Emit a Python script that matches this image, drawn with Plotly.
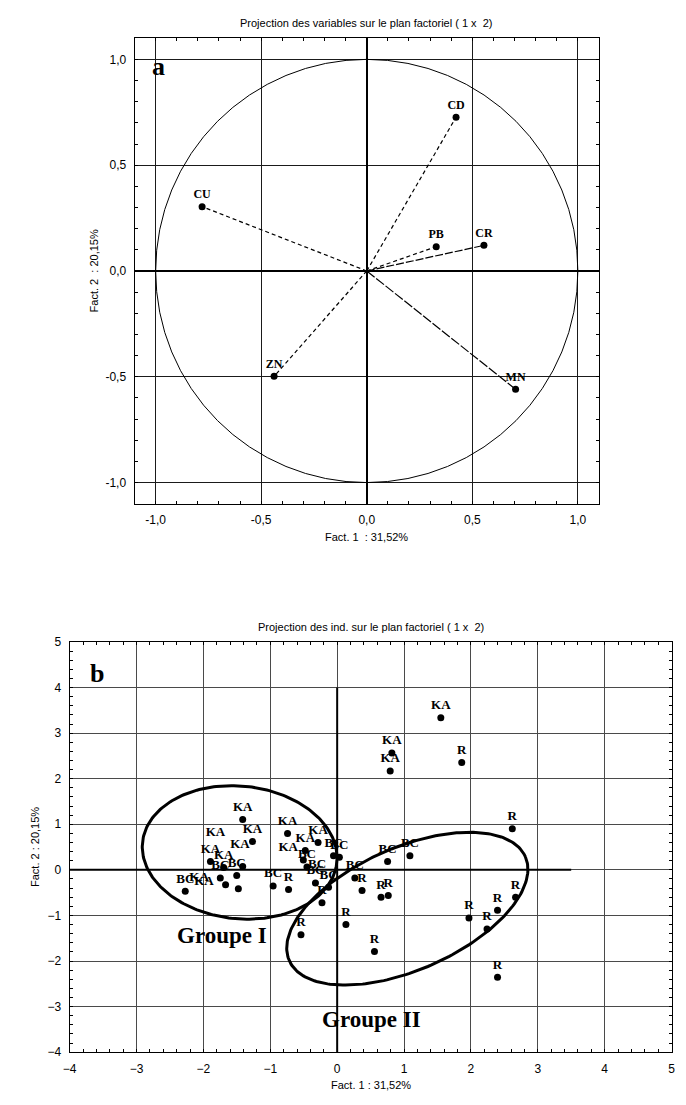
import numpy as np
import plotly.graph_objects as go

# ---------------- DATA ----------------
# (a) variables projection
var_names = ["CD", "CU", "PB", "CR", "ZN", "MN"]
var_f1 = [0.423, -0.780, 0.329, 0.555, -0.439, 0.705]
var_f2 = [0.727, 0.304, 0.115, 0.121, -0.498, -0.559]
var_dash = ["4px,3px", "4px,3px", "4px,3px", "8px,2px", "4px,3px", "10px,2px"]

# (b) individuals projection
ind_labels = ["KA", "KA", "KA", "KA", "BC", "BC", "BC", "", "", "",
              "KA", "KA", "KA", "KA", "BC", "BC", "BC", "BC", "BC", "BC",
              "R", "R", "BC", "R", "R", "R", "BC", "BC", "R", "R",
              "R", "R", "R", "R", "R", "R", "R", "KA", "KA", "KA", "R"]
ind_f1 = [-1.413, -1.266, -1.895, -1.698, -1.502, -1.748, -2.272, -1.413, -1.669, -1.478,
          -0.742, -0.286, -0.477, -0.506, -0.452, -0.325, -0.129, -0.055, 0.033, -0.958,
          -0.727, -0.227, 0.264, 0.372, 0.656, 0.764, 0.754, 1.088, 0.131, -0.541,
          0.558, 2.619, 2.668, 2.398, 1.971, 2.241, 2.398, 1.550, 0.818, 0.793, 1.863]
ind_f2 = [1.105, 0.621, 0.181, 0.051, -0.123, -0.181, -0.469, 0.072, -0.325, -0.412,
          0.795, 0.599, 0.426, 0.217, 0.065, -0.289, -0.383, 0.311, 0.274, -0.354,
          -0.433, -0.722, -0.181, -0.455, -0.600, -0.563, 0.181, 0.311, -1.199, -1.423,
          -1.791, 0.903, -0.600, -0.888, -1.055, -1.300, -2.355, 3.337, 2.563, 2.167, 2.355]
ind_textpos = ["top center"] * len(ind_labels)
ind_textpos[13] = "top left"

# labels whose points are hidden in the crowd
hidden_labels = ["KA", "KA", "KA", "KA", "BC"]
hidden_f1 = [-1.821, -1.453, -2.066, -1.992, -0.300]
hidden_f2 = [0.809, 0.556, -0.166, -0.253, 0.123]

# group ellipses: centre and two conjugate semi-axes (data units)
ell_names = ["Groupe I", "Groupe II"]
ell_center = [(-1.458, 0.383), (1.049, -0.852)]
ell_axis_a = [(1.457, -0.12), (1.766, 1.138)]
ell_axis_b = [(0.0, 1.46), (0.366, -1.231)]
ell_label_pos = [(-1.723, -1.445), (0.509, -3.272)]

a_ticks = [-1.0, -0.5, 0.0, 0.5, 1.0]
a_ticktext = ["-1,0", "-0,5", "0,0", "0,5", "1,0"]
b_ticks = list(range(-4, 6))

# ---------------- FIGURE ----------------
W, H = 686, 1105
OFF = 8  # page body margin
def px(v): return (v - OFF) / W
def py(v): return 1 - (v - OFF) / H

fig = go.Figure()

SERIF = "Liberation Serif, Times New Roman, serif"
SANS = "Liberation Sans, Arial, sans-serif"

# --- plot a ---
fig.add_shape(type="circle", xref="x", yref="y", x0=-1, y0=-1, x1=1, y1=1,
              line=dict(color="black", width=1))
for n, x, y, d in zip(var_names, var_f1, var_f2, var_dash):
    fig.add_trace(go.Scatter(x=[0, x], y=[0, y], mode="lines", xaxis="x", yaxis="y",
                             line=dict(color="black", width=1.2, dash=d),
                             showlegend=False, hoverinfo="skip"))
fig.add_trace(go.Scatter(x=var_f1, y=var_f2, mode="markers+text", text=var_names,
                         textposition="top center", xaxis="x", yaxis="y",
                         marker=dict(color="black", size=7),
                         textfont=dict(family=SERIF, size=12, color="black", weight="bold"),
                         showlegend=False))

# --- plot b ---
fig.add_shape(type="line", xref="x2", yref="y2", x0=0, x1=0, y0=-4, y1=4,
              line=dict(color="black", width=2), layer="between")
fig.add_shape(type="line", xref="x2", yref="y2", x0=-4, x1=3.5, y0=0, y1=0,
              line=dict(color="black", width=2), layer="between")

t = np.linspace(0, 2 * np.pi, 240)
for c, A, B in zip(ell_center, ell_axis_a, ell_axis_b):
    ex = c[0] + A[0] * np.cos(t) + B[0] * np.sin(t)
    ey = c[1] + A[1] * np.cos(t) + B[1] * np.sin(t)
    fig.add_trace(go.Scatter(x=ex, y=ey, mode="lines", xaxis="x2", yaxis="y2",
                             line=dict(color="black", width=3),
                             showlegend=False, hoverinfo="skip"))

fig.add_trace(go.Scatter(x=ind_f1, y=ind_f2, mode="markers+text", text=ind_labels,
                         textposition=ind_textpos, xaxis="x2", yaxis="y2",
                         marker=dict(color="black", size=7),
                         textfont=dict(family=SERIF, size=13, color="black", weight="bold"),
                         showlegend=False))
fig.add_trace(go.Scatter(x=hidden_f1, y=hidden_f2, mode="text", text=hidden_labels,
                         xaxis="x2", yaxis="y2",
                         textfont=dict(family=SERIF, size=13, color="black", weight="bold"),
                         showlegend=False))

for name, pos in zip(ell_names, ell_label_pos):
    fig.add_annotation(x=pos[0], y=pos[1], xref="x2", yref="y2", text=name, showarrow=False,
                       xanchor="center", yanchor="middle",
                       font=dict(family=SERIF, size=23, color="black", weight="bold"))

fig.add_annotation(x=-0.985, y=0.966, xref="x", yref="y", text="a", showarrow=False,
                   xanchor="center", yanchor="middle",
                   font=dict(family=SERIF, size=26, color="black", weight="bold"))
fig.add_annotation(x=-3.59, y=4.30, xref="x2", yref="y2", text="b", showarrow=False,
                   xanchor="center", yanchor="middle",
                   font=dict(family=SERIF, size=26, color="black", weight="bold"))

# titles & axis titles
ann_font = dict(family=SANS, size=11, color="black")
def paper_text(x, y, text, angle=0):
    fig.add_annotation(x=px(x), y=py(y), xref="paper", yref="paper", showarrow=False,
                       xanchor="center", yanchor="middle", text=text, font=ann_font,
                       textangle=angle)

paper_text(365.5, 16, "Projection des variables sur le plan factoriel ( 1 x \u00a02)")
paper_text(369.4, 628, "Projection des ind. sur le plan factoriel ( 1 x \u00a02)")
paper_text(365.5, 537, "Fact. 1 \u00a0: 31,52%")
paper_text(88, 267, "Fact. 2 \u00a0: 20,15%", -90)
paper_text(369.4, 1092, "Fact. 1 : 31,52%")
paper_text(29, 851, "Fact. 2 : 20,15%", -90)

tickfont = dict(family=SANS, size=12, color="black")
common = dict(showline=True, mirror="ticks", linecolor="black", linewidth=1,
              ticks="inside", ticklen=3, tickcolor="black", tickfont=tickfont,
              showgrid=True, ticklabelstandoff=5, fixedrange=True)

fig.update_layout(
    width=W, height=H, margin=dict(l=0, r=0, t=0, b=0),
    paper_bgcolor="white", plot_bgcolor="white",
    xaxis=dict(domain=[px(129.5), px(601.5)], range=[-1.1, 1.1], anchor="y",
               tickvals=a_ticks, ticktext=a_ticktext, gridcolor="#1a1a1a", gridwidth=1,
               zeroline=True, zerolinecolor="black", zerolinewidth=2,
               minor=dict(dtick=0.1, tick0=0, ticks="inside", ticklen=3, tickcolor="black", showgrid=False),
               **common),
    yaxis=dict(domain=[py(503), py(31.5)], range=[-1.1, 1.1], anchor="x",
               tickvals=a_ticks, ticktext=a_ticktext, gridcolor="#1a1a1a", gridwidth=1,
               zeroline=True, zerolinecolor="black", zerolinewidth=2,
               minor=dict(dtick=0.1, tick0=0, ticks="inside", ticklen=3, tickcolor="black", showgrid=False),
               **common),
    xaxis2=dict(domain=[px(63.6), px(675.2)], range=[-4, 5], anchor="y2",
                tickvals=b_ticks, gridcolor="#4a4a4a", gridwidth=1, zeroline=False,
                minor=dict(dtick=0.2, tick0=0, ticks="inside", ticklen=3, tickcolor="black", showgrid=False),
                **common),
    yaxis2=dict(domain=[py(1058.5), py(643)], range=[-4, 5], anchor="x2",
                tickvals=b_ticks, gridcolor="#4a4a4a", gridwidth=1, zeroline=False,
                minor=dict(dtick=0.2, tick0=0, ticks="inside", ticklen=3, tickcolor="black", showgrid=False),
                **common),
)

fig.write_html("out.html")
